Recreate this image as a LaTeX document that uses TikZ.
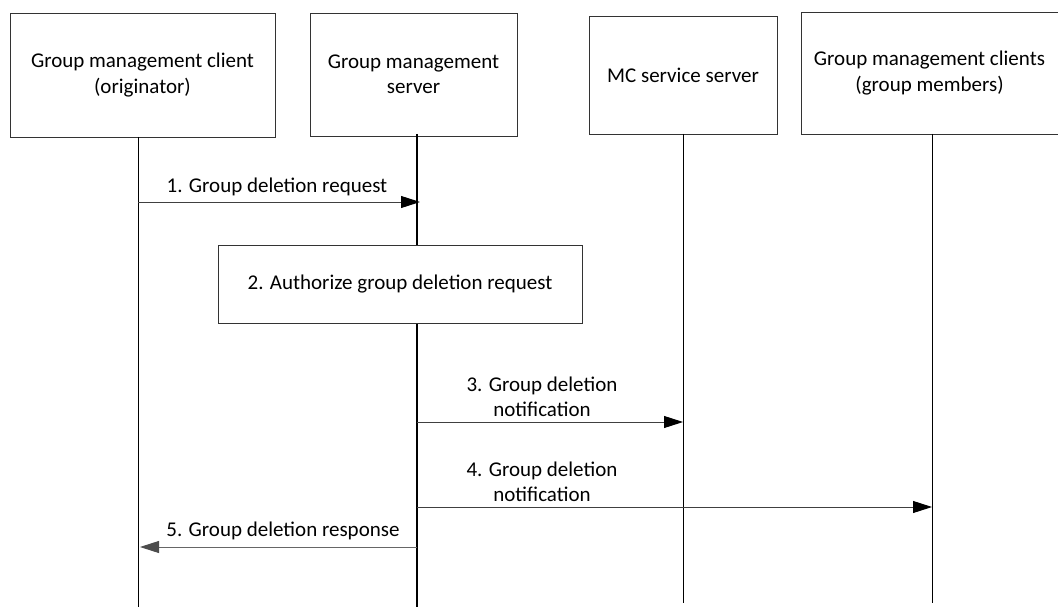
\documentclass[tikz,border=0pt]{standalone}
\usepackage{fontspec}
\setmainfont{Carlito}
\usetikzlibrary{arrows.meta}
\begin{document}
\begin{tikzpicture}[x=1pt,y=-1pt,
  ent/.style={draw=black!80,line width=0.8pt,align=center,font=\fontsize{21}{25.5}\selectfont,inner sep=0pt},
  life/.style={draw=black,line width=1pt},
  msg/.style={draw=black!75,line width=0.9pt,-{Triangle[length=19pt,width=12pt,fill=black,color=black]}},
  lbl/.style={font=\fontsize{21}{25}\selectfont,align=center,inner sep=0pt}]
\useasboundingbox (0,0) rectangle (1058,607);
% entity boxes
\node[ent,minimum width=265pt,minimum height=124pt] (c1) at (142.5,75) {Group management client\\(originator)};
\node[ent,minimum width=207pt,minimum height=123pt] (s1) at (413.5,74.5) {Group management\\server};
\node[ent,minimum width=188pt,minimum height=118pt] (mc) at (683,75) {MC service server};
\node[ent,minimum width=257pt,minimum height=122pt] (gm) at (929.5,73) {Group management clients\\(group members)};
% lifeline ends
\coordinate (c1e) at (138,607);
\coordinate (s1e) at (417,607);
\coordinate (mce) at (683,603);
\coordinate (gme) at (932,603);
\coordinate (c1t) at (138,137);
\coordinate (s1t) at (417,134);
\coordinate (mct) at (683,134);
\coordinate (gmt) at (932,134);
\draw[life] (c1t) -- (c1e);
\draw[life,line width=1.8pt] (s1t) -- (s1e);
\draw[life] (mct) -- (mce);
\draw[life] (gmt) -- (gme);
% step 2 box
\node[ent,fill=white,minimum width=364pt,minimum height=78pt] (auth) at (400,284) {2. Authorize group deletion request};
% message points
\coordinate (m1a) at (138,202); \coordinate (m1b) at (420,202);
\coordinate (m3a) at (417,422); \coordinate (m3b) at (683,422);
\coordinate (m4a) at (417,507); \coordinate (m4b) at (932,507);
\coordinate (m5a) at (417,547); \coordinate (m5b) at (140,547);
\draw[msg] (m1a) -- (m1b);
\draw[msg] (m3a) -- (m3b);
\draw[msg] (m4a) -- (m4b);
\draw[msg,-{Triangle[length=19pt,width=12pt,fill=black!70,color=black!70]},draw=black!60] (m5a) -- (m5b);
% labels
\node[lbl] (l1) at (277,187) {1. Group deletion request};
\node[lbl] (l3) at (542,397) {3. Group deletion\\notification};
\node[lbl] (l4) at (542,482) {4. Group deletion\\notification};
\node[lbl] (l5) at (283,531) {5. Group deletion response};
\end{tikzpicture}
\end{document}
